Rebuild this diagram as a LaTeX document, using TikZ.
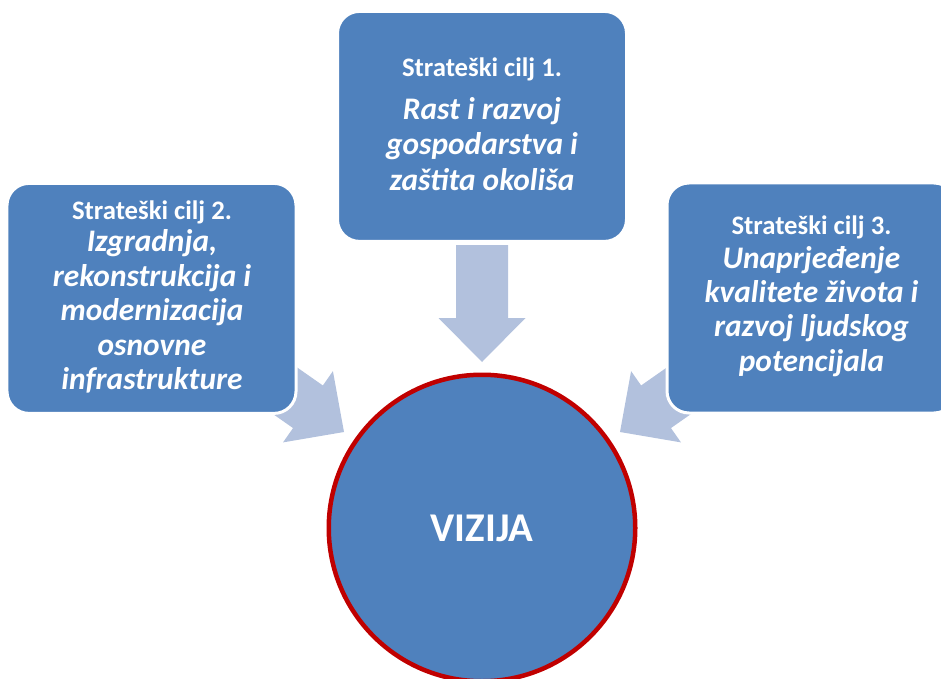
\documentclass[tikz,border=0pt]{standalone}
\usepackage{fontspec}
\setmainfont{Carlito}
\definecolor{boxblue}{RGB}{79,129,189}
\definecolor{arrowblue}{RGB}{178,193,221}
\definecolor{ringred}{RGB}{192,0,0}
\tikzset{
  goalbox/.style={draw=white, line width=3bp, fill=boxblue, rounded corners=22bp,
    minimum width=289bp, minimum height=230bp, inner sep=0pt, outer sep=0pt},
  vision/.style={circle, draw=ringred, line width=4.5bp, fill=boxblue, minimum size=306.5bp,
    inner sep=0pt, text=white, font=\bfseries\fontsize{41}{48}\selectfont},
  titletext/.style={text=white, anchor=base, inner sep=0pt,
    font=\bfseries\fontsize{26.8}{30}\selectfont},
  goaltext/.style={text=white, anchor=base, inner sep=0pt,
    font=\bfseries\itshape\fontsize{31.5}{35}\selectfont},
  blockarrow/.pic={\fill[arrowblue] (0,0) -- (-44,43.5) -- (-44,26) -- (-117,26)
    -- (-117,-26) -- (-44,-26) -- (-44,-43.5) -- cycle;}
}
\begin{document}
\begin{tikzpicture}[x=1bp, y=-1bp]
\useasboundingbox (0,0) rectangle (941,679);
\clip (0,0) rectangle (941,679);
% block arrows (drawn first, partly covered by the boxes)
\coordinate (tipc) at (482,362);
\coordinate (tipl) at (344,432);
\coordinate (tipr) at (620,432);
\pic[rotate=-90] at (tipc) {blockarrow};
\pic[rotate=-35] at (tipl) {blockarrow};
\pic[rotate=-145] at (tipr) {blockarrow};
% boxes
\node[goalbox] (box1) at (482,126.4) {};
\node[goalbox] (box2) at (151.5,298.4) {};
\node[goalbox] (box3) at (811.5,298) {};
% texts of box 1
\node[titletext] (b1t) at (482,76.5) {Strateški cilj 1.};
\node[goaltext] (b1a) at (482,119.5) {Rast i razvoj};
\node[goaltext] (b1b) at (482,155) {gospodarstva i};
\node[goaltext] (b1c) at (482,190.5) {zaštita okoliša};
% texts of box 2
\node[titletext] (b2t) at (152,219) {Strateški cilj 2.};
\node[goaltext] (b2a) at (152,251.5) {Izgradnja,};
\node[goaltext] (b2b) at (152,286) {rekonstrukcija i};
\node[goaltext] (b2c) at (152,320.5) {modernizacija};
\node[goaltext] (b2d) at (152,355) {osnovne};
\node[goaltext] (b2e) at (152,389.5) {infrastrukture};
% texts of box 3
\node[titletext] (b3t) at (811.5,234) {Strateški cilj 3.};
\node[goaltext] (b3a) at (811.5,268) {Unaprjeđenje};
\node[goaltext] (b3b) at (811.5,302) {kvalitete života i};
\node[goaltext] (b3c) at (811.5,336.5) {razvoj ljudskog};
\node[goaltext] (b3d) at (811.5,371) {potencijala};
% vision circle
\node[vision] (viz) at (482,528) {VIZIJA};
\end{tikzpicture}
\end{document}
